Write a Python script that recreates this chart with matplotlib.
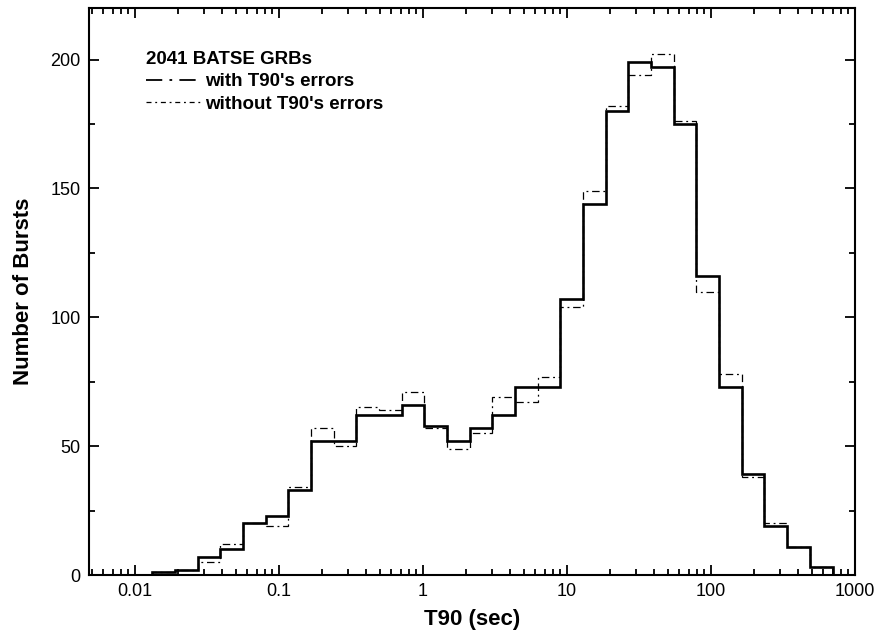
import numpy as np
import matplotlib
matplotlib.use('Agg')
from matplotlib import pyplot as plt
from matplotlib.lines import Line2D
from matplotlib.ticker import LogLocator, MultipleLocator, FixedLocator, FixedFormatter

plt.rcParams['font.family'] = ['Liberation Sans', 'DejaVu Sans']

# log10 bin edges: 30 bins of equal width in log(T90)
bin_start = -1.880
bin_width = 0.15746
n_bins = 30

with_errors = [1, 2, 7, 10, 20, 23, 33, 52, 52, 62, 62, 66, 58, 52, 57,
               62, 73, 73, 107, 144, 180, 199, 197, 175, 116, 73, 39, 19, 11, 3]
without_errors = [1, 2, 5, 12, 20, 19, 34, 57, 50, 65, 64, 71, 57, 49, 55,
                  69, 67, 77, 104, 149, 182, 194, 202, 176, 110, 78, 38, 20, 11, 3]

x_ticks = [0.01, 0.1, 1, 10, 100, 1000]
x_tick_labels = ['0.01', '0.1', '1', '10', '100', '1000']

edges = 10 ** (bin_start + bin_width * np.arange(n_bins + 1))

fig = plt.figure(figsize=(8.8, 6.44), dpi=100)
ax = fig.add_axes([89 / 880, 1 - 575 / 644, 766 / 880, 567 / 644])

ax.stairs(without_errors, edges, color='black', lw=0.9,
          linestyle=(0, (6, 3, 1.5, 3)))
ax.stairs(with_errors, edges, color='black', lw=1.9)

ax.set_xscale('log')
ax.set_xlim(0.0048, 1000)
ax.set_ylim(0, 220)

ax.xaxis.set_major_locator(FixedLocator(x_ticks))
ax.xaxis.set_major_formatter(FixedFormatter(x_tick_labels))
ax.xaxis.set_minor_locator(LogLocator(base=10, subs=np.arange(2, 10), numticks=20))
ax.yaxis.set_major_locator(MultipleLocator(50))
ax.yaxis.set_minor_locator(MultipleLocator(25))

ax.tick_params(which='both', direction='in', top=True, right=True, width=1.3,
               labelsize=13, pad=6)
ax.tick_params(which='major', length=7)
ax.tick_params(which='minor', length=4)
for s in ax.spines.values():
    s.set_linewidth(1.5)

ax.set_xlabel('T90 (sec)', fontsize=16, fontweight='bold', labelpad=6)
ax.set_ylabel('Number of Bursts', fontsize=16, fontweight='bold', labelpad=12)

handles = [
    Line2D([], [], color='black', lw=1.3, linestyle=(0, (9, 4, 1.5, 4))),
    Line2D([], [], color='black', lw=0.9, linestyle=(0, (4, 3, 1.5, 3))),
]
leg = ax.legend(handles, ["with T90's errors", "without T90's errors"],
                title='2041 BATSE GRBs', loc='upper left',
                bbox_to_anchor=(0.075, 0.925), frameon=False,
                prop={'size': 13.5, 'weight': 'bold'},
                title_fontproperties={'size': 13.5, 'weight': 'bold'},
                handlelength=2.9, handletextpad=0.2, labelspacing=0.3,
                borderaxespad=0, borderpad=0)
leg._legend_box.align = 'left'

fig.savefig('out.png', dpi=100)
